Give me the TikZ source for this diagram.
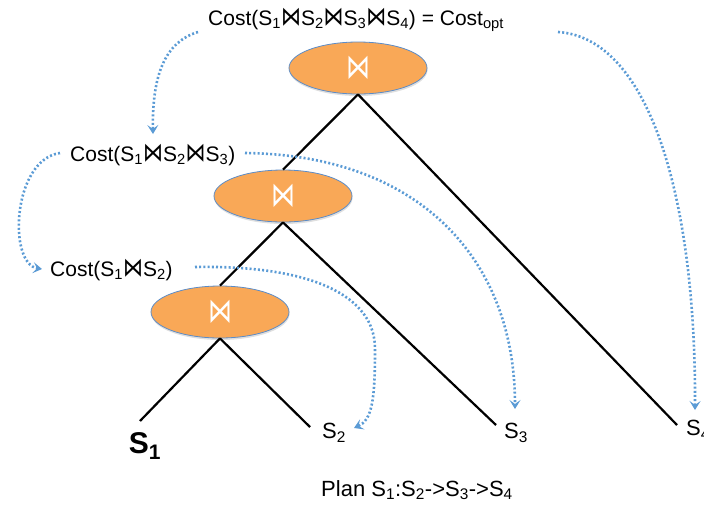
\documentclass[tikz,border=0pt]{standalone}
\usepackage{fontspec}
\setmainfont{Liberation Sans}
\newfontfamily\djfont{DejaVu Sans}
\usetikzlibrary{shapes.geometric,arrows.meta,shadows}
\definecolor{joinfill}{HTML}{F9A857}
\definecolor{joinedge}{HTML}{5B8CC8}
\definecolor{flow}{HTML}{5B9BD5}
\newcommand{\jn}{{\djfont\scalebox{0.95}[1.25]{⋈}}}
\newcommand{\sbx}[1]{\textsubscript{#1}}
\tikzset{
  joinnode/.style={ellipse, draw=joinedge, line width=0.8pt, fill=joinfill,
    minimum width=138pt, minimum height=52pt, inner sep=0pt, text=white,
    font=\djfont\fontsize{20}{20}\selectfont,
    drop shadow={opacity=0.25, shadow xshift=0.5pt, shadow yshift=-2pt}},
  edge/.style={line width=2.2pt, black},
  flowline/.style={draw=flow, line width=2.6pt, dash pattern=on 2pt off 2.2pt,
    -{Stealth[length=9pt,width=11pt,inset=4pt]}},
  lbl/.style={inner sep=0pt, font=\fontsize{21}{21}\selectfont},
  leaf/.style={inner sep=0pt, font=\fontsize{22}{22}\selectfont},
}
\begin{document}
\begin{tikzpicture}[x=1pt,y=-1pt]
\useasboundingbox (0,0) rectangle (704,507);
% join nodes
\node[joinnode] (j1) at (358,68) {\scalebox{1.2}[1.7]{⋈}};
\node[joinnode] (j2) at (283,196) {\scalebox{1.2}[1.7]{⋈}};
\node[joinnode] (j3) at (220,312) {\scalebox{1.2}[1.7]{⋈}};
% leaf ends
\coordinate (e1) at (140,421);
\coordinate (e2) at (310,427);
\coordinate (e3) at (496,425);
\coordinate (e4) at (677,425);
% tree edges
\draw[edge] (j1.south) -- (j2.north);
\draw[edge] (j1.south) -- (e4);
\draw[edge] (j2.south) -- (j3.north);
\draw[edge] (j2.south) -- (e3);
\draw[edge] (j3.south) -- (e1);
\draw[edge] (j3.south) -- (e2);
% leaf labels
\node[inner sep=0pt, font=\bfseries\fontsize{30}{30}\selectfont] (s1) at (145,446) {S\sbx{1}};
\node[leaf] (s2) at (334,433) {S\sbx{2}};
\node[leaf] (s3) at (516,433) {S\sbx{3}};
\node[leaf, anchor=west] (s4) at (686,430) {S\sbx{4}};
\node[leaf] (plan) at (417,490) {Plan S\sbx{1}:S\sbx{2}->S\sbx{3}->S\sbx{4}};
% cost labels
\node[lbl, anchor=west] (c4) at (208,20) {Cost(S\sbx{1}\jn S\sbx{2}\jn S\sbx{3}\jn S\sbx{4}) = Cost\sbx{opt}};
\node[lbl, anchor=west] (c3) at (70,155) {Cost(S\sbx{1}\jn S\sbx{2}\jn S\sbx{3})};
\node[lbl, anchor=west] (c2) at (50,270) {Cost(S\sbx{1}\jn S\sbx{2})};
% flow anchors
\coordinate (a1) at (198,32);
\coordinate (t1) at (153,134);
\coordinate (a2) at (60,153);
\coordinate (t2) at (42,269);
\coordinate (a3) at (558,32);
\coordinate (t3) at (695,410);
\coordinate (a4) at (245,153);
\coordinate (t4) at (515,409);
\coordinate (a5) at (195,267);
\coordinate (m5) at (375,350);
\coordinate (t5) at (354,428);
% flows
\draw[flowline] (a1) .. controls (165,42) and (152,75) .. (t1);
\draw[flowline] (a2) .. controls (12,160) and (8,264) .. (t2);
\draw[flowline] (a3) .. controls (650,38) and (696,200) .. (t3);
\draw[flowline] (a4) .. controls (420,155) and (515,260) .. (t4);
\draw[flowline] (a5) .. controls (310,265) and (376,295) .. (m5) .. controls (375,400) and (372,420) .. (t5);
\end{tikzpicture}
\end{document}
